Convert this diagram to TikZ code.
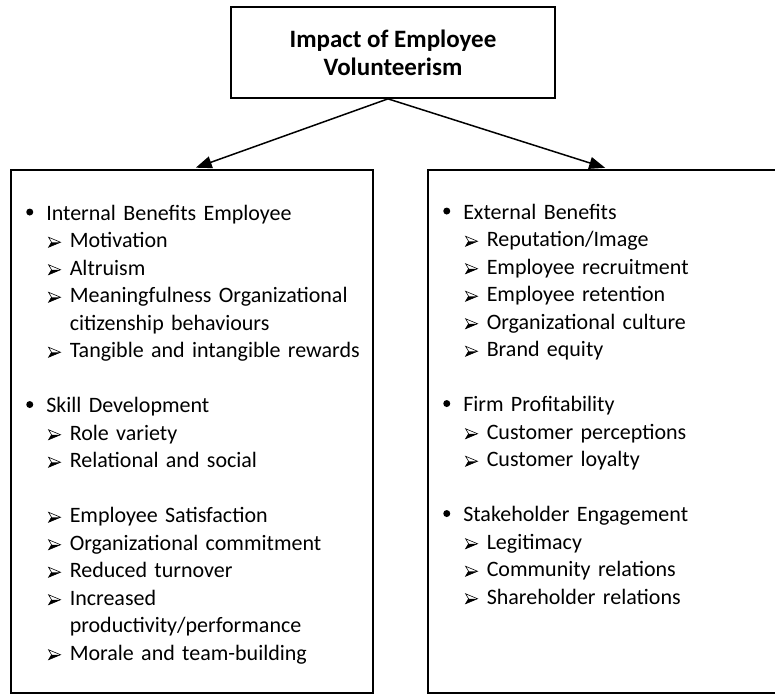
\documentclass[tikz,border=0pt]{standalone}
\usepackage{fontspec}
\setmainfont{Carlito}
\usetikzlibrary{arrows.meta, positioning}

\newsavebox\arrbox
\newsavebox\bulbox
\newcommand{\mainpt}[1]{\noindent\hspace*{16pt}\usebox\bulbox\hspace{13pt}#1\par}
\newcommand{\subpt}[1]{\noindent\hangindent=59.5pt\hangafter=1\hspace*{38pt}\makebox[21.5pt][l]{\usebox\arrbox}#1\par}
\newcommand{\gapline}{\vspace*{27.5pt}}

\begin{document}
% BULLET GLYPHS
\sbox\bulbox{\begin{pgfpicture}
    \pgfpathcircle{\pgfpoint{3.5pt}{8pt}}{3.5pt}\pgfusepath{fill}
    \pgfpathmoveto{\pgfpointorigin}\pgfusepath{discard}
\end{pgfpicture}}
\sbox\arrbox{\begin{pgfpicture}
    \pgfpathmoveto{\pgfpoint{0pt}{0pt}}\pgfpathlineto{\pgfpoint{12pt}{5pt}}%
    \pgfpathlineto{\pgfpoint{3pt}{5pt}}\pgfpathclose\pgfusepath{fill}
    \pgfsetlinewidth{0.6pt}\pgfsetmiterjoin
    \pgfpathmoveto{\pgfpoint{0pt}{10pt}}\pgfpathlineto{\pgfpoint{12pt}{5pt}}%
    \pgfpathlineto{\pgfpoint{0pt}{0pt}}\pgfpathlineto{\pgfpoint{3pt}{5pt}}\pgfpathclose\pgfusepath{stroke}
\end{pgfpicture}}
\begin{tikzpicture}[
    x=1pt, y=-1pt,
    titlebox/.style={
        rectangle,
        draw=black,
        line width=1.7pt,
        minimum width=324pt,
        minimum height=91pt,
        align=center,
        font=\fontsize{25}{28}\selectfont\bfseries
    },
    listbox/.style={
        rectangle,
        draw=black,
        line width=1.9pt,
        minimum width=362pt,
        minimum height=523pt
    },
    listtext/.style={
        inner sep=0pt,
        text width=400pt,
        align=left,
        font=\fontsize{22}{27.5}\selectfont
    },
    arrow/.style={-{Triangle[length=16pt, width=12pt]}, line width=1.5pt, shorten >=4pt}
]

\useasboundingbox (0,0) rectangle (775,695);

% NODES
\node[titlebox] (title) at (393, 52.5) {Impact of Employee\\Volunteerism};
\node[listbox] (leftbox) at (192, 431.5) {};
\node[listbox] (rightbox) at (609, 431.5) {};

% LIST TEXT
\node[listtext, anchor=base west] (internal) at ([yshift=-51pt]leftbox.north west) {%
    \mainpt{Internal Benefits Employee}
    \subpt{Motivation}
    \subpt{Altruism}
    \subpt{Meaningfulness Organizational\newline citizenship behaviours}
    \subpt{Tangible and intangible rewards}
    \gapline
    \mainpt{Skill Development}
    \subpt{Role variety}
    \subpt{Relational and social}
    \gapline
    \subpt{Employee Satisfaction}
    \subpt{Organizational commitment}
    \subpt{Reduced turnover}
    \subpt{Increased\newline productivity/performance}
    \subpt{Morale and team-building}};
\node[listtext, anchor=base west] (external) at ([yshift=-50pt]rightbox.north west) {%
    \mainpt{External Benefits}
    \subpt{Reputation/Image}
    \subpt{Employee recruitment}
    \subpt{Employee retention}
    \subpt{Organizational culture}
    \subpt{Brand equity}
    \gapline
    \mainpt{Firm Profitability}
    \subpt{Customer perceptions}
    \subpt{Customer loyalty}
    \gapline
    \mainpt{Stakeholder Engagement}
    \subpt{Legitimacy}
    \subpt{Community relations}
    \subpt{Shareholder relations}};

% ARROWS
\draw[arrow] ([xshift=-5pt]title.south) -- (leftbox.north);
\draw[arrow] ([xshift=-5pt]title.south) -- (rightbox.north);

\end{tikzpicture}
\end{document}
